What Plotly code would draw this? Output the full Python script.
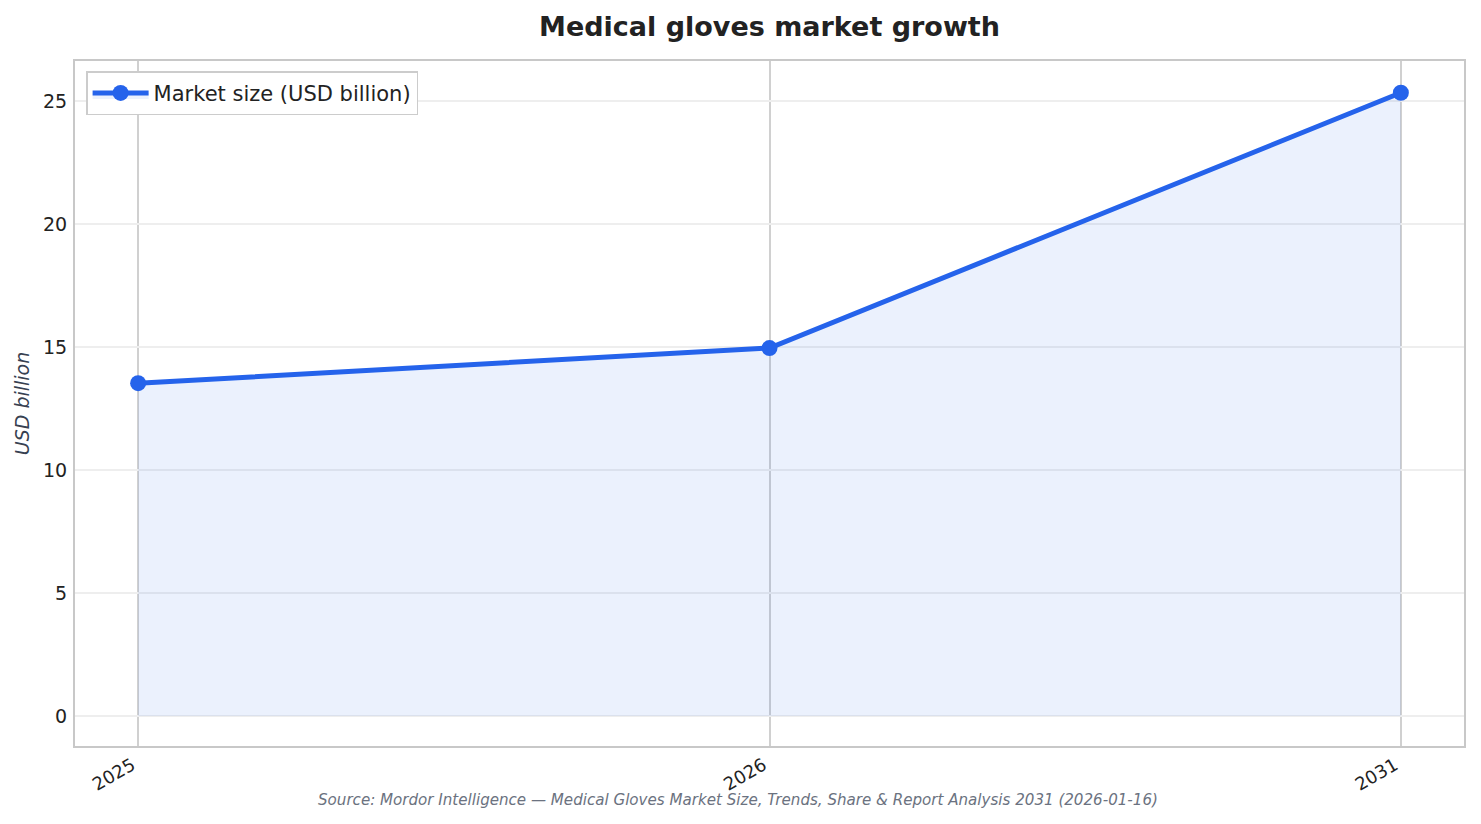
import plotly.graph_objects as go

years = ["2025", "2026", "2031"]
market_size = [13.53, 14.96, 25.34]
y_ticks = [0, 5, 10, 15, 20, 25]

title_text = "<b>Medical gloves market growth</b>"
source_text = ("Source: Mordor Intelligence — Medical Gloves Market Size, Trends, "
               "Share & Report Analysis 2031 (2026-01-16)")

# page body has an 8px margin, so size the figure to fit inside the window
fig = go.Figure()

fig.add_trace(go.Scatter(
    x=years,
    y=market_size,
    mode="lines+markers",
    name="Market size (USD billion)",
    line=dict(color="#2563eb", width=5),
    marker=dict(size=16, color="#2563eb"),
    fill="tozeroy",
    fillcolor="rgba(37,99,235,0.09)",
))

axis_line = dict(showline=True, linecolor="#c8c8c8", linewidth=2, mirror=True)

fig.update_xaxes(
    type="category",
    range=[-0.1, 2.1],
    showgrid=True,
    gridcolor="#d0d0d0",
    gridwidth=1.5,
    tickangle=-30,
    ticks="",
    ticklabelshift=-6,
    tickfont=dict(size=18, color="#222"),
    **axis_line,
)
fig.update_yaxes(
    range=[-1.22, 26.63],
    tickvals=y_ticks,
    showgrid=True,
    gridcolor="#eeeeee",
    gridwidth=1.5,
    zeroline=False,
    ticks="",
    ticklabelstandoff=2,
    tickfont=dict(size=19, color="#222"),
    title=dict(text="<i>USD billion</i>", font=dict(size=19, color="#374151"), standoff=8),
    **axis_line,
)

fig.update_layout(
    width=1465,
    height=808,
    font=dict(family="DejaVu Sans"),
    plot_bgcolor="white",
    paper_bgcolor="white",
    margin=dict(l=67, r=7, t=53, b=70),
    title=dict(text=title_text, xref="paper", x=0.5, xanchor="center",
               y=0.9765, yanchor="middle",
               font=dict(size=27, color="#222")),
    legend=dict(x=0.008, y=0.985, xanchor="left", yanchor="top",
                bgcolor="white", bordercolor="#cccccc", borderwidth=1.5,
                itemwidth=56,
                font=dict(size=21, color="#222")),
    showlegend=True,
    annotations=[dict(
        text="<i>" + source_text + "</i>",
        xref="paper", yref="paper", x=0.477, y=-0.0788,
        xanchor="center", yanchor="middle", showarrow=False,
        font=dict(size=15.1, color="#6b7280"),
    )],
)

fig.write_html("out.html")
